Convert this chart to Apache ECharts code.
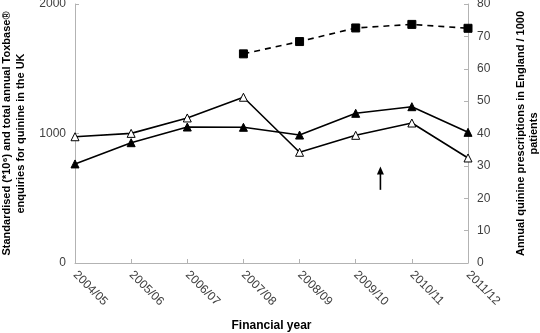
<!DOCTYPE html>
<html><head><meta charset="utf-8">
<script src="https://cdn.jsdelivr.net/npm/echarts@6/dist/echarts.min.js"></script>
<style>html,body{margin:0;padding:0;background:#fff}#c{width:540px;height:333px}</style>
</head><body><div id="c"></div>
<script>
const categories = ['2004/05','2005/06','2006/07','2007/08','2008/09','2009/10','2010/11','2011/12'];
const openTriangle = [975, 1001, 1120, 1280, 855, 986, 1081, 811];
const filledTriangle = [765, 929, 1050, 1048, 988, 1156, 1207, 1009];
const prescriptions = [null, null, null, 64.6, 68.4, 72.6, 73.7, 72.5];
const leftTicks = [0, 1000, 2000];
const rightTicks = [0, 10, 20, 30, 40, 50, 60, 70, 80];

const chart = echarts.init(document.getElementById('c'), null, {renderer:'canvas'});
const font = 'Liberation Sans, Arial, sans-serif';
const axisGray = '#b3b3b3';
const labelColor = '#404040';
chart.setOption({
  animation: false,
  textStyle: {fontFamily: font},
  grid: {left: 75, right: 72, top: 4, bottom: 70, containLabel: false, outerBoundsMode: 'none'},
  xAxis: {
    type: 'category', data: categories, boundaryGap: false,
    axisLine: {lineStyle: {color: axisGray}},
    axisTick: {inside: true, length: 4, lineStyle: {color: axisGray}},
    axisLabel: {rotate: -45, color: labelColor, fontSize: 12, fontFamily: font, margin: 10},
    name: 'Financial year', nameLocation: 'middle', nameGap: 57,
    nameTextStyle: {fontWeight: 'bold', fontSize: 12, color: '#000', fontFamily: font}
  },
  yAxis: [{
    type: 'value', min: leftTicks[0], max: leftTicks[leftTicks.length-1], interval: 1000,
    splitLine: {show: false},
    axisLine: {show: true, lineStyle: {color: axisGray}},
    axisTick: {show: true, inside: true, length: 4, lineStyle: {color: axisGray}},
    axisLabel: {color: labelColor, fontSize: 12, fontFamily: font, margin: 9, formatter: v => String(v)},
    name: 'Standardised (*10\u2076) and total annual Toxbase\u00AE\nenquiries for quinine in the UK',
    nameLocation: 'middle', nameGap: 44, nameRotate: 90,
    nameTextStyle: {fontWeight: 'bold', fontSize: 11, color: '#000', lineHeight: 14, fontFamily: font, align: 'center'}
  },{
    type: 'value', min: rightTicks[0], max: rightTicks[rightTicks.length-1], interval: 10,
    position: 'right',
    splitLine: {show: false},
    axisLine: {show: true, lineStyle: {color: axisGray}},
    axisTick: {show: true, inside: true, length: 4, lineStyle: {color: axisGray}},
    axisLabel: {color: labelColor, fontSize: 12, fontFamily: font, margin: 9, formatter: v => String(v)},
    name: 'Annual quinine prescriptions in England / 1000\npatients',
    nameLocation: 'middle', nameGap: 46, nameRotate: 90,
    nameTextStyle: {fontWeight: 'bold', fontSize: 11, color: '#000', lineHeight: 13, fontFamily: font, align: 'center'}
  }],
  series: [{
    type: 'line', data: openTriangle, yAxisIndex: 0,
    symbol: 'triangle', symbolSize: 8, showAllSymbol: true,
    lineStyle: {color: '#000', width: 1.6},
    itemStyle: {color: '#fff', borderColor: '#000', borderWidth: 1}
  },{
    type: 'line', data: filledTriangle, yAxisIndex: 0,
    symbol: 'triangle', symbolSize: 8,
    lineStyle: {color: '#000', width: 1.6},
    itemStyle: {color: '#000', borderColor: '#000'}
  },{
    type: 'line', data: prescriptions, yAxisIndex: 1,
    symbol: 'rect', symbolSize: 8, connectNulls: false,
    lineStyle: {color: '#000', width: 1.6, type: [6, 5]},
    itemStyle: {color: '#000', borderColor: '#000'}
  }]
});

// annotation arrow between 2009/10 and 2010/11
const a = chart.convertToPixel({xAxisIndex: 0}, categories[5]);
const b = chart.convertToPixel({xAxisIndex: 0}, categories[6]);
const ax = a + (b - a) * 0.44;
const y0 = chart.convertToPixel({yAxisIndex: 0}, 565);
const y1 = chart.convertToPixel({yAxisIndex: 0}, 745);
chart.setOption({graphic: [
  {type: 'line', shape: {x1: ax, y1: y0, x2: ax, y2: y1 + 6}, style: {stroke: '#000', lineWidth: 1.6}},
  {type: 'polygon', shape: {points: [[ax, y1], [ax - 3.5, y1 + 8], [ax + 3.5, y1 + 8]]}, style: {fill: '#000'}}
]});
</script></body></html>
